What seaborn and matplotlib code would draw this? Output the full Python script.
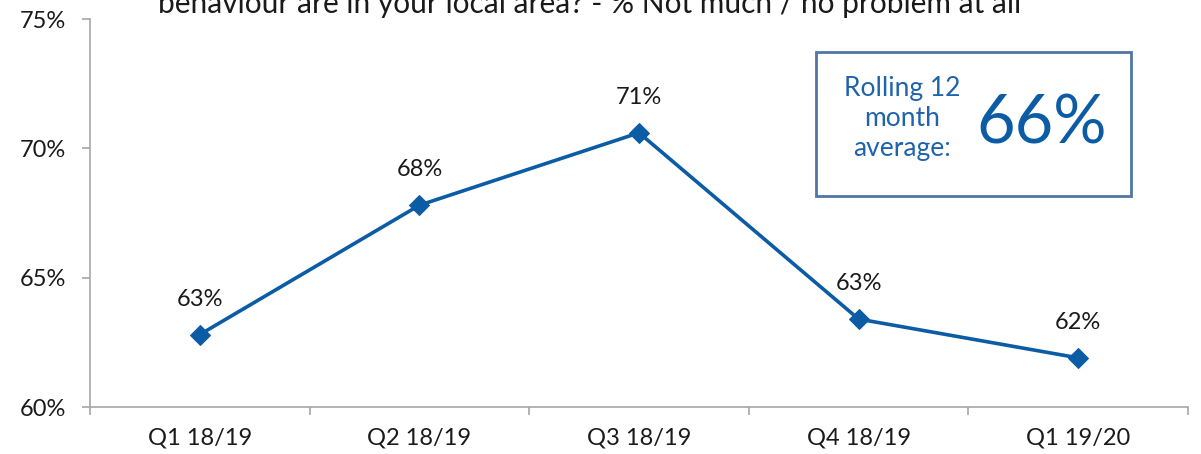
import matplotlib
matplotlib.use("Agg")
import matplotlib.pyplot as plt
from matplotlib.patches import Rectangle
from matplotlib.ticker import FixedLocator, FuncFormatter
import seaborn as sns
import pandas as pd

quarters = ["Q1 18/19", "Q2 18/19", "Q3 18/19", "Q4 18/19", "Q1 19/20"]
pct_not_a_problem = [62.8, 67.8, 70.6, 63.4, 61.9]
rolling_average = 66
y_ticks = [60, 65, 70, 75]
title_text = "behaviour are in your local area? - % Not much / no problem at all"

sns.set_theme(style="white")
plt.rcParams["font.family"] = ["Lato", "DejaVu Sans"]

line_color = "#0b5ca5"
axis_grey = "#a6a6a6"
text_color = "#1a1a1a"
label_size = 17

df = pd.DataFrame({"pos": range(len(quarters)), "quarter": quarters, "value": pct_not_a_problem})

fig = plt.figure(figsize=(12.01, 4.54), dpi=100)
ax = fig.add_axes([90 / 1201, 1 - 407 / 454, (1188 - 90) / 1201, (407 - 19) / 454])

sns.lineplot(data=df, x="pos", y="value", ax=ax, color=line_color, linewidth=2.6,
             marker="D", markersize=10, markeredgecolor=line_color, markerfacecolor=line_color)

for x, v in zip(df["pos"], df["value"]):
    ax.annotate(f"{v:.0f}%", (x, v), xytext=(0, 18), textcoords="offset points",
                ha="center", va="bottom", fontsize=label_size, color=text_color)

ax.set_xlim(-0.5, len(quarters) - 0.5)
ax.set_ylim(y_ticks[0], y_ticks[-1])
ax.set_yticks(y_ticks)
ax.yaxis.set_major_formatter(FuncFormatter(lambda v, _: f"{v:.0f}%"))
ax.set_xticks(range(len(quarters)))
ax.set_xticklabels(quarters)
ax.xaxis.set_minor_locator(FixedLocator([i + 0.5 for i in range(-1, len(quarters))]))
ax.set_xlabel("")
ax.set_ylabel("")

for side in ["top", "right"]:
    ax.spines[side].set_visible(False)
for side in ["left", "bottom"]:
    ax.spines[side].set_color(axis_grey)
    ax.spines[side].set_linewidth(1.2)

ax.tick_params(axis="y", which="major", length=6, width=1.2, color=axis_grey,
               labelsize=label_size, labelcolor=text_color, pad=11, left=True)
ax.tick_params(axis="x", which="major", length=0, labelsize=label_size,
               labelcolor=text_color, pad=15)
ax.tick_params(axis="x", which="minor", length=6, width=1.2, color=axis_grey, bottom=True)

# Rolling average call-out box
box_l, box_t, box_r, box_b = 816, 52, 1131, 196
fig.patches.append(Rectangle((box_l / 1201, 1 - box_b / 454), (box_r - box_l) / 1201,
                             (box_b - box_t) / 454, transform=fig.transFigure,
                             facecolor="white", edgecolor="#4f76a6", linewidth=2, zorder=5))
fig.text(902 / 1201, 1 - 119 / 454, "Rolling 12\nmonth\naverage:", ha="center", va="center",
         fontsize=19, color="#1f63ad", linespacing=1.25, zorder=6)
fig.text(1042 / 1201, 1 - 124 / 454, f"{rolling_average}%", ha="center", va="center",
         fontsize=48, color="#0b5ca5", zorder=6)

fig.text(590 / 1201, 1 - 13 / 454, title_text, ha="center", va="baseline",
         fontsize=21.5, color=text_color)

fig.savefig("out.png", dpi=100)
